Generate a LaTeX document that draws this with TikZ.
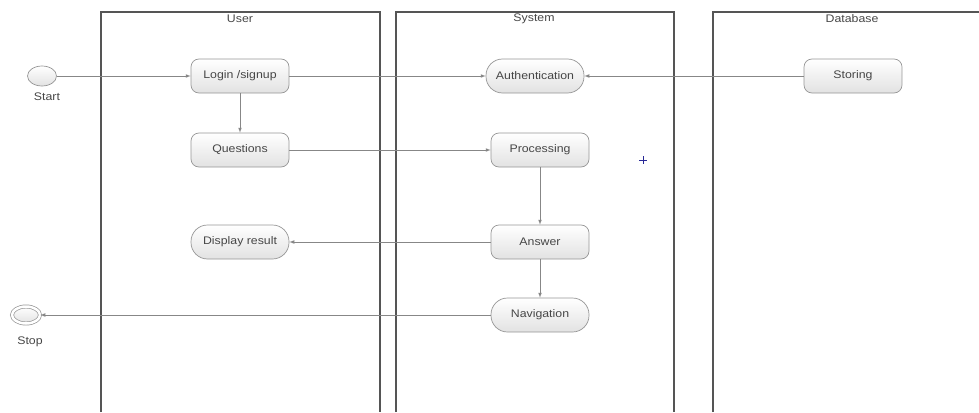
\documentclass[tikz,border=0pt]{standalone}
\usepackage{fontspec}
\setsansfont{Liberation Sans}[FakeStretch=1.12]
\usetikzlibrary{shapes.geometric}
\definecolor{lanegray}{RGB}{85,85,85}
\definecolor{linegray}{RGB}{135,135,135}
\definecolor{boxgray}{RGB}{150,150,150}
\definecolor{fillgray}{RGB}{226,226,226}
\definecolor{textgray}{RGB}{70,70,70}
\definecolor{cursorblue}{RGB}{40,40,150}

\begin{document}
\begin{tikzpicture}[x=1pt, y=-1pt,
    font=\sffamily\fontsize{11}{13}\selectfont, text=textgray,
    action/.style={draw=boxgray, line width=0.7pt, top color=white, bottom color=fillgray,
      rounded corners=8pt, minimum width=98pt, minimum height=34pt, inner sep=0pt},
    pill/.style={action, rounded corners=16.5pt},
    lane/.style={lanegray, line width=1.2pt},
    flow/.style={linegray, line width=0.7pt, -latex}]
    \useasboundingbox (0,0) rectangle (979,412);

    \coordinate (UserLeft)   at (101,12);
    \coordinate (UserRight)  at (380,12);
    \coordinate (SysLeft)    at (396,12);
    \coordinate (SysRight)   at (674,12);
    \coordinate (DbLeft)     at (713,12);
    \coordinate (DbRight)    at (979,12);
    \draw [lane] (UserLeft |- 0,412) -- (UserLeft) -- (UserRight) -- (UserRight |- 0,412);% User lane
    \draw [lane] (SysLeft |- 0,412) -- (SysLeft) -- (SysRight) -- (SysRight |- 0,412);% System lane
    \draw [lane] (DbLeft |- 0,412) -- (DbLeft) -- (DbRight);% Database lane, open at the right

    \node (UserTitle) at (240,19) {User};
    \node (SysTitle)  at (534,19) {System};
    \node (DbTitle)   at (852,19) {Database};

    % start and stop
    \node [ellipse, draw=boxgray, line width=0.7pt, top color=white, bottom color=fillgray,
        minimum width=29pt, minimum height=20pt, inner sep=0pt] (Start) at (42,76) {};
    \node (StartText) at (47,97) {Start};
    \node [ellipse, draw=boxgray, line width=0.7pt, double=white, double distance=2.5pt,
        top color=white, bottom color=fillgray,
        minimum width=28pt, minimum height=17pt, inner sep=0pt] (Stop) at (26,315) {};
    \node (StopText) at (30,342) {Stop};

    % activities
    \node [action] (Login)      at (240,76)  {Login /signup};
    \node [action] (Questions)  at (240,150) {Questions};
    \node [pill]   (Display)    at (240,242) {Display result};
    \node [pill]   (Auth)       at (535,76)  {Authentication};
    \node [action] (Processing) at (540,150) {Processing};
    \node [action] (Answer)     at (540,242) {Answer};
    \node [pill]   (Navigation) at (540,315) {Navigation};
    \node [action] (Storing)    at (853,76)  {Storing};

    \draw [flow] (Start) -- (Login);
    \draw [flow] (Login) -- (Auth);
    \draw [flow] (Storing) -- (Auth);
    \draw [flow] (Login) -- (Questions);
    \draw [flow] (Questions) -- (Processing);
    \draw [flow] (Processing) -- (Answer);
    \draw [flow] (Answer) -- (Display);
    \draw [flow] (Answer) -- (Navigation);
    \draw [flow] (Navigation) -- (Stop);

    \draw [cursorblue, line width=0.8pt] (639,160) -- (647,160) (643,156) -- (643,164);% stray cursor mark
\end{tikzpicture}
\end{document}
